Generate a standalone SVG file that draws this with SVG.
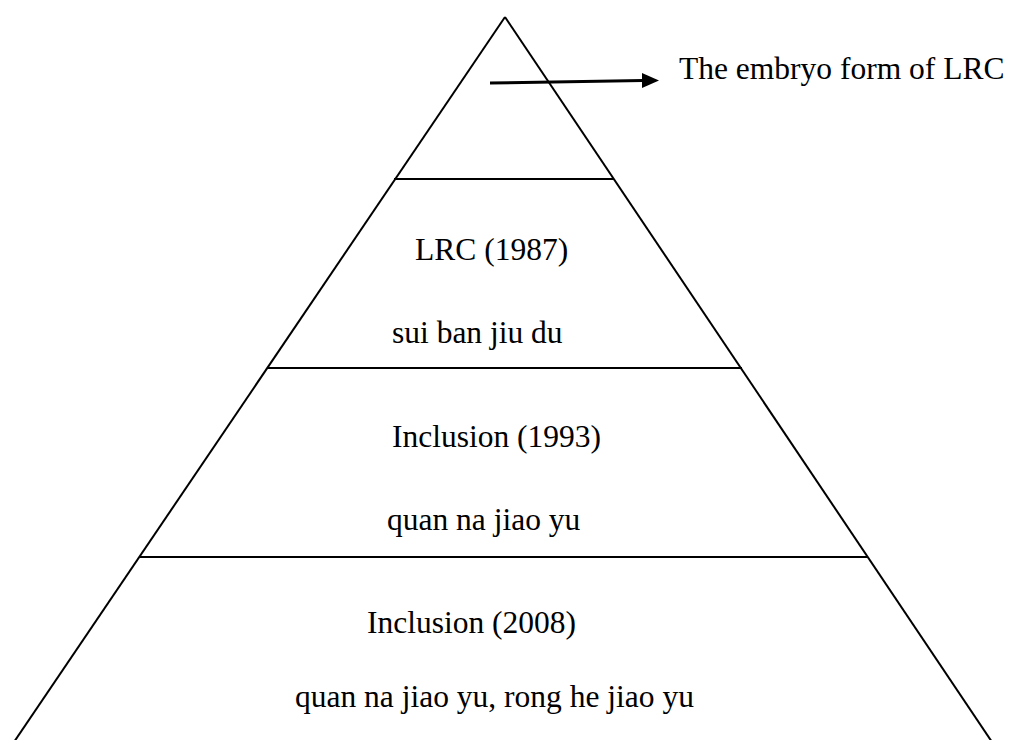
<svg xmlns="http://www.w3.org/2000/svg" width="1013" height="740" viewBox="0 0 1013 740">
  <style>
    .edge { stroke: #000; stroke-width: 2; fill: none; }
    .tier { stroke: #000; stroke-width: 2.2; fill: none; }
    .lbl { font-family: "Liberation Serif", "Times New Roman", serif; font-size: 31.5px; fill: #000; }
  </style>
  <rect width="1013" height="740" fill="#fff"/>

  <!-- pyramid outline -->
  <g id="pyramid">
    <line class="edge" x1="505" y1="17" x2="14" y2="742"/>
    <line class="edge" x1="505" y1="17" x2="992" y2="742"/>
  </g>

  <!-- tier dividers -->
  <g id="tier-lines">
    <line class="tier" x1="394" y1="179" x2="614" y2="179"/>
    <line class="tier" x1="267" y1="368" x2="742" y2="368"/>
    <line class="tier" x1="140" y1="557" x2="868" y2="557"/>
  </g>

  <!-- apex label -->
  <g id="apex">
    <text class="lbl" x="679" y="79">The embryo form of LRC</text>
  </g>

  <g id="tier-lrc">
    <text class="lbl" x="415" y="260">LRC (1987)</text>
    <text class="lbl" x="392" y="343">sui ban jiu du</text>
  </g>

  <g id="tier-1993">
    <text class="lbl" x="392" y="447">Inclusion (1993)</text>
    <text class="lbl" x="387" y="530">quan na jiao yu</text>
  </g>

  <g id="tier-2008">
    <text class="lbl" x="367" y="633">Inclusion (2008)</text>
    <text class="lbl" x="295" y="707">quan na jiao yu, rong he jiao yu</text>
  </g>

  <!-- connector from apex to its label -->
  <g id="connectors">
    <path d="M490,83 L643,80.5" stroke="#000" stroke-width="3" fill="none"/>
    <path d="M642,73 L659,80.5 L642,88 Z" fill="#000"/>
  </g>
</svg>
